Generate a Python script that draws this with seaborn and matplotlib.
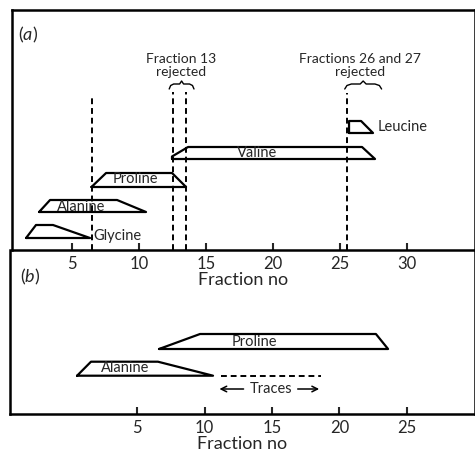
import numpy as np
import matplotlib
matplotlib.use("Agg")
import matplotlib.pyplot as plt
import seaborn as sns

# Panel (a): trapezoids (bottom-left x, top-left x, top-right x, bottom-right x)
a_names = ["Glycine", "Alanine", "Proline", "Valine", "Leucine"]
a_x = [
    [1.57, 2.31, 3.58, 6.34],
    [2.54, 3.36, 8.36, 10.52],
    [6.45, 7.54, 12.46, 13.51],
    [12.46, 13.66, 26.64, 27.61],
    [25.67, 25.67, 26.57, 27.46],
]
a_ybot = [1.2, 3.8, 6.3, 9.1, 11.7]
a_ytop = [2.5, 5.0, 7.7, 10.3, 12.9]
a_label_x = [6.6, 5.7, 9.7, 18.8, 27.8]
a_label_y = [1.4, 4.3, 7.1, 9.7, 12.3]

# cut points (dashed) and their heights
cut_x = [6.5, 12.5, 13.5, 25.5]
cut_top = [15.3, 15.8, 15.8, 15.7]
rejected_text = ["Fraction 13\nrejected", "Fractions 26 and 27\nrejected"]
rejected_x = [13.15, 26.5]
brace_span = [(12.25, 14.1), (25.35, 28.1)]

# Panel (b)
b_names = ["Proline", "Alanine"]
b_x = [
    [6.63, 9.67, 22.7, 23.6],
    [0.56, 1.59, 6.55, 10.63],
]
b_ybot = [6.5, 3.83]
b_ytop = [8.0, 5.23]
b_label_x = [13.7, 4.1]
b_label_y = [7.2, 4.6]
traces_x = [11.2, 18.6]
traces_y = 3.8

sns.set_style("white")
plt.rcParams["font.family"] = ["Lato", "DejaVu Sans"]
plt.rcParams["mathtext.fontset"] = "custom"
plt.rcParams["mathtext.it"] = "Lato:italic"
plt.rcParams["mathtext.rm"] = "Lato"

fig = plt.figure(figsize=(4.75, 4.61), dpi=100)
ax_b = fig.add_axes([10 / 475, 47 / 461, 465 / 475, 164 / 461])
ax_a = fig.add_axes([12 / 475, 211 / 461, 463 / 475, 240 / 461])
for ax in (ax_a, ax_b):
    ax.set_facecolor("none")

LW = 1.6


def trapezoid(ax, xs, yb, yt, step=False):
    px = [xs[0], xs[1], xs[2], xs[3], xs[0]]
    py = [yb, yt, yt, yb, yb]
    if step:
        # short upright edge before the slope
        px = [xs[0], xs[0], xs[1], xs[2], xs[3], xs[0]]
        py = [yb, yb + 0.25, yt, yt, yb, yb]
    sns.lineplot(x=px, y=py, sort=False, estimator=None, color="black",
                 linewidth=LW, ax=ax)


def brace(ax, x0, x1, y):
    xm = (x0 + x1) / 2
    w = x1 - x0
    bx = [x0, x0 + 0.06 * w, x0 + 0.18 * w, xm - 0.08 * w, xm,
          xm + 0.08 * w, x1 - 0.18 * w, x1 - 0.06 * w, x1]
    by = [y - 0.5, y - 0.15, y, y, y + 0.3, y, y, y - 0.15, y - 0.5]
    ax.plot(bx, by, color="black", linewidth=1.0)


# ---- panel (a)
for i, name in enumerate(a_names):
    trapezoid(ax_a, a_x[i], a_ybot[i], a_ytop[i], step=(name == "Valine"))
    ha = "left" if name in ("Glycine", "Leucine") else "center"
    ax_a.text(a_label_x[i], a_label_y[i], name, ha=ha, va="center",
              fontsize=10.5)

for x, top in zip(cut_x, cut_top):
    ax_a.plot([x, x], [0, top], color="black", linewidth=1.4,
              linestyle=(0, (3, 2)))

for (x0, x1), txt, tx in zip(brace_span, rejected_text, rejected_x):
    brace(ax_a, x0, x1, 16.6)
    ax_a.text(tx, 18.5, txt, ha="center", va="center", fontsize=10,
              linespacing=1.1)

ax_a.text(1.7, 21.5, "($a$)", ha="center", va="center", fontsize=13)

ax_a.set_xlim(0.52, 35.07)
ax_a.set_ylim(0, 24)
ax_a.set_xticks([5, 10, 15, 20, 25, 30])
ax_a.set_yticks([])
ax_a.set_xlabel("Fraction no", fontsize=13, labelpad=0)

# ---- panel (b)
for i, name in enumerate(b_names):
    trapezoid(ax_b, b_x[i], b_ybot[i], b_ytop[i])
    ax_b.text(b_label_x[i], b_label_y[i], name, ha="center", va="center",
              fontsize=10.5)

ax_b.plot(traces_x, [traces_y, traces_y], color="black", linewidth=1.4,
          linestyle=(0, (3, 2)))
tmid = (traces_x[0] + traces_x[1]) / 2
ax_b.text(tmid, 2.5, "Traces", ha="center", va="center", fontsize=10.5)
ax_b.annotate("", xy=(traces_x[0] - 0.3, 2.5), xytext=(tmid - 1.8, 2.5),
              arrowprops=dict(arrowstyle="->", color="black", lw=1.1))
ax_b.annotate("", xy=(traces_x[1] + 0.1, 2.5), xytext=(tmid + 1.8, 2.5),
              arrowprops=dict(arrowstyle="->", color="black", lw=1.1))

ax_b.text(-2.93, 13.7, "($b$)", ha="center", va="center", fontsize=13)

ax_b.set_xlim(-4.41, 30.04)
ax_b.set_ylim(0, 16.4)
ax_b.set_xticks([5, 10, 15, 20, 25])
ax_b.set_yticks([])
ax_b.set_xlabel("Fraction no", fontsize=13, labelpad=0)
ax_b.spines["top"].set_visible(False)

for ax in (ax_a, ax_b):
    ax.tick_params(axis="x", direction="in", length=5, width=1.5,
                   labelsize=12, pad=4, bottom=True)
    for s in ax.spines.values():
        s.set_linewidth(1.8)
        s.set_color("black")

fig.savefig("out.png", dpi=100)
